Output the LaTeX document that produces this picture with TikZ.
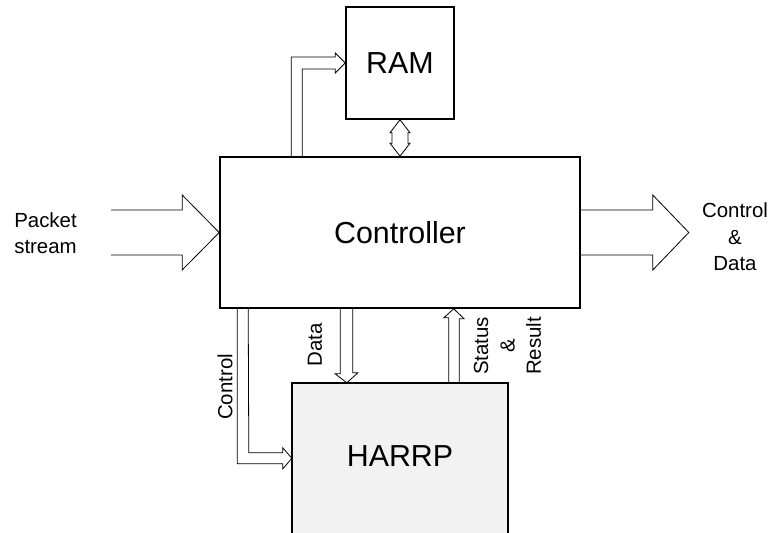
\documentclass[tikz,border=0pt]{standalone}
\usepackage{fontspec}
\setmainfont{Liberation Sans}
\usetikzlibrary{calc}
\definecolor{harrpfill}{RGB}{242,242,242}
\begin{document}
\begin{tikzpicture}[x=1bp,y=-1bp,
  boxline/.style={draw=black, line width=1.6bp},
  box/.style={boxline, fill=white, inner sep=0pt},
  arrowline/.style={draw=black, line width=0.8bp, line join=miter},
  big/.style={font=\fontsize{30.5}{36}\selectfont},
  small/.style={font=\fontsize{20.5}{26.5}\selectfont, align=center, inner sep=0pt}]
\useasboundingbox (0,0) rectangle (773,533);
\clip (0,0) rectangle (773,533);
% boxes
\node[box, big, minimum width=360bp, minimum height=151bp] (ctrl) at (400,232.5) {Controller};
\node[box, big, minimum width=108bp, minimum height=112bp] (ram) at (400,63) {RAM};
\node[big, fill=harrpfill, inner sep=0pt, minimum width=216bp, minimum height=146bp] (harrp) at (400,456) {HARRP};
\fill[harrpfill] (harrp.south west) rectangle ($(harrp.south east)+(0,12)$);
\draw[boxline] ($(harrp.south west)+(0,12)$) -- (harrp.north west) -- (harrp.north east) -- ($(harrp.south east)+(0,12)$);
\coordinate (outtip) at ($(ctrl.east)+(108,0)$);
% packet stream arrow
\draw[arrowline] ($(ctrl.west)+(-108,-22.5)$) -- ++(71,0) -- ++(0,-15) -- (ctrl.west) -- ++(-37,37.5) -- ++(0,-15) -- ++(-71,0);
% output arrow
\draw[arrowline] ($(ctrl.east)+(0,-22.5)$) -- ++(72,0) -- ++(0,-15) -- (outtip) -- ++(-36,37.5) -- ++(0,-15) -- ++(-72,0);
% controller -> RAM
\draw[arrowline] ($(ctrl.north west)+(72,0)$) |- ($(ram.west)+(-10,-6)$) -- ++(0,-4) -- (ram.west) -- ++(-10,10) -- ++(0,-4) -- ++(-33,0) -- ($(ctrl.north west)+(83,0)$);
% RAM <-> controller
\draw[arrowline, fill=white] (ram.south) -- ++(10,13) -- ++(-2,0) -- ($(ctrl.north -| ram.south)+(8,-13)$) -- ++(2,0) -- (ctrl.north -| ram.south) -- ++(-10,-13) -- ++(2,0) -- ($(ram.south)+(-8,13)$) -- ++(-2,0) -- cycle;
% data arrow
\draw[arrowline] ($(ctrl.south west)+(121,0)$) -- ++(0,65) -- ++(-5,0) -- ($(harrp.north west)+(55,0)$) -- ++(11,-10) -- ++(-5,0) -- ++(0,-65);
% status arrow
\draw[arrowline] ($(harrp.north west)+(157,0)$) -- ++(0,-65) -- ++(-5,0) -- ($(ctrl.south west)+(234.5,0)$) -- ++(10.5,10) -- ++(-5,0) -- ++(0,65);
% control arrow
\draw[arrowline] ($(ctrl.south west)+(18,0)$) |- ($(harrp.north west)+(-9,81)$) -- ++(0,5) -- ($(harrp.north west)+(0,75.5)$) -- ++(-9,-10.5) -- ++(0,5) -- ++(-34,0) -- ($(ctrl.south west)+(29,0)$);
% labels
\node[small] (lps) at (45.5,233) {Packet\\stream};
\node[small] (lcd) at (735,237) {Control\\\&\\Data};
\node[small, rotate=90] (lctl) at (225,387) {Control};
\node[small, rotate=90] (ldata) at (315,345) {Data};
\node[small, rotate=90] (lsr) at (507.5,346) {Status\\\&\\Result};
\end{tikzpicture}
\end{document}
